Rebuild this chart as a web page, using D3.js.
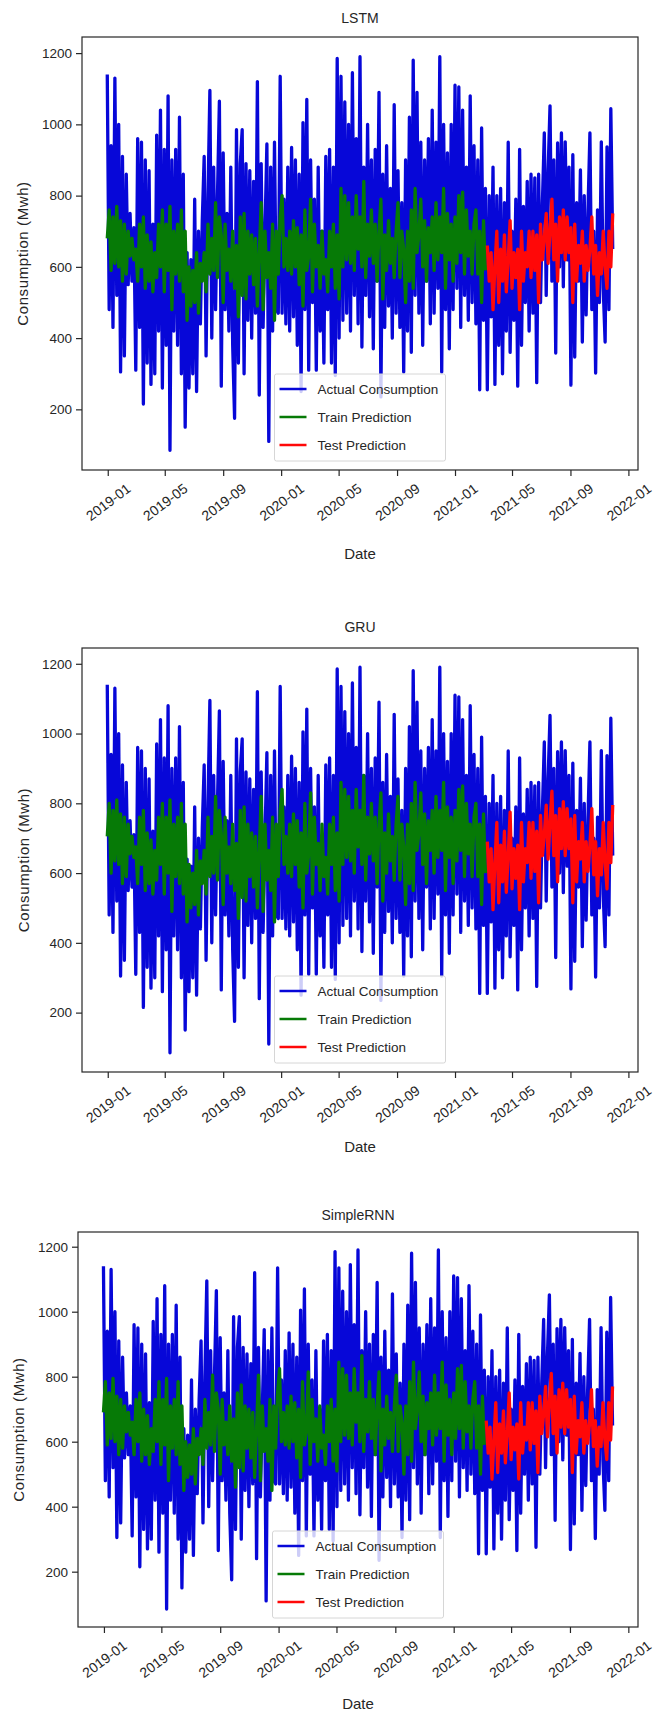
<!DOCTYPE html>
<html lang="en">
<head>
<meta charset="utf-8">
<script src="https://d3js.org/d3.v7.min.js"></script>
<style>
  body { margin: 0; background: #ffffff; }
  text { font-family: "Liberation Sans", Arial, sans-serif; fill: #262626; }
</style>
</head>
<body>
<script>
    // ---------------------------------------------------------------
    // data (one point every 4 days)
    // ---------------------------------------------------------------
    const startDate = "2018-12-31";
    const stepDays = 4;
    const splitIndex = 200;   // first test point

    const actual = [
        1140, 480, 940, 430, 1130, 520, 1000, 305, 910, 350,
        860, 550, 750, 560, 710, 310, 960, 430, 950, 215,
        900, 330, 870, 270, 720, 300, 970, 420, 1040, 260,
        930, 380, 1080, 85, 900, 420, 930, 380, 1020, 300,
        860, 150, 640, 260, 620, 300, 790, 250, 700, 440,
        730, 910, 350, 800, 1095, 400, 880, 480, 800, 1065,
        265, 920, 480, 750, 420, 880, 380, 175, 985, 330,
        890, 985, 300, 890, 450, 870, 400, 840, 470, 1120,
        240, 890, 430, 700, 945, 110, 880, 420, 950, 480,
        470, 1135, 470, 790, 440, 880, 420, 935, 460, 900,
        380, 860, 250, 1005, 480, 1070, 310, 900, 500, 790,
        310, 880, 420, 700, 330, 910, 480, 930, 330, 880,
        295, 1185, 400, 1135, 450, 1063, 470, 1000, 420, 1145,
        520, 960, 440, 1190, 375, 880, 520, 1000, 460, 900,
        370, 930, 560, 1090, 235, 860, 430, 940, 490, 820,
        400, 1055, 470, 870, 430, 780, 305, 900, 420, 1020,
        360, 1180, 520, 1090, 470, 950, 380, 900, 560, 960,
        440, 1040, 470, 950, 540, 1190, 305, 1000, 480, 920,
        370, 1000, 480, 1110, 540, 1105, 430, 1040, 520, 880,
        450, 1080, 500, 940, 440, 900, 255, 990, 450, 820,
        255, 800, 460, 880, 270, 800, 380, 820, 300, 780,
        420, 950, 360, 700, 450, 790, 265, 930, 380, 770,
        500, 840, 420, 860, 470, 850, 275, 860, 500, 780,
        976, 520, 870, 1052, 560, 900, 358, 948, 600, 976,
        544, 951, 620, 880, 268, 915, 347, 780, 560, 872,
        389, 800, 465, 760, 976, 480, 700, 302, 760, 500,
        951, 540, 389, 937, 480, 1044, 650
    ];

    const lstmTrain = [
        680, 760, 590, 740, 610, 770, 600, 730, 560, 720,
        580, 700, 630, 680, 620, 650, 560, 720, 600, 740,
        540, 690, 560, 670, 530, 640, 570, 720, 600, 760,
        530, 720, 590, 770, 480, 700, 580, 720, 560, 760,
        530, 700, 450, 600, 490, 590, 500, 640, 470, 610,
        560, 640, 530, 720, 580, 680, 590, 780, 570, 740,
        690, 500, 720, 590, 650, 560, 700, 540, 660, 460,
        740, 520, 750, 510, 700, 580, 690, 550, 680, 490,
        640, 780, 480, 700, 570, 640, 540, 720, 450, 700,
        580, 740, 800, 600, 680, 590, 700, 580, 730, 600,
        710, 550, 690, 490, 760, 590, 630, 790, 530, 720,
        600, 660, 540, 700, 580, 620, 530, 700, 600, 720,
        540, 690, 510, 820, 600, 800, 620, 780, 610, 740,
        590, 800, 650, 740, 600, 840, 570, 720, 630, 760,
        610, 720, 560, 700, 790, 510, 690, 590, 730, 610,
        680, 570, 700, 780, 570, 700, 650, 500, 700, 560,
        760, 540, 820, 640, 690, 790, 600, 730, 560, 710,
        640, 740, 590, 780, 620, 740, 640, 820, 540, 750,
        620, 720, 560, 740, 610, 800, 640, 810, 580, 760,
        630, 700, 580, 720, 760, 580, 700, 500, 730, 590
    ];
    const lstmTest = [
        660, 560, 640, 480, 600, 700, 500, 650, 560, 690,
        530, 620, 730, 540, 640, 570, 650, 480, 700, 560,
        640, 600, 700, 570, 700, 590, 690, 500, 720, 620,
        680, 750, 610, 700, 790, 620, 720, 560, 740, 640,
        760, 620, 740, 640, 710, 500, 720, 560, 660, 610,
        700, 560, 660, 590, 650, 740, 580, 660, 520, 640,
        580, 700, 600, 540, 700, 600, 750
    ];

    const gruTrain = [
        705, 800, 600, 780, 635, 810, 625, 770, 570, 760,
        590, 740, 655, 705, 645, 675, 570, 760, 625, 780,
        550, 715, 570, 695, 540, 665, 580, 760, 625, 800,
        540, 760, 600, 810, 490, 740, 590, 760, 570, 800,
        540, 740, 460, 625, 500, 600, 510, 665, 480, 635,
        570, 665, 540, 760, 590, 705, 600, 820, 580, 780,
        715, 510, 760, 600, 675, 570, 740, 550, 685, 470,
        780, 530, 790, 520, 740, 590, 715, 560, 705, 500,
        665, 820, 490, 740, 580, 665, 550, 760, 460, 740,
        590, 780, 840, 625, 705, 600, 740, 590, 770, 625,
        750, 560, 715, 500, 800, 600, 655, 830, 540, 760,
        625, 685, 550, 740, 590, 645, 540, 740, 625, 760,
        550, 715, 520, 860, 625, 840, 645, 820, 635, 780,
        600, 840, 675, 780, 625, 880, 580, 760, 655, 800,
        635, 760, 570, 740, 830, 520, 715, 600, 770, 635,
        705, 580, 740, 820, 580, 740, 675, 510, 740, 570,
        800, 550, 860, 665, 715, 830, 625, 770, 570, 750,
        665, 780, 600, 820, 645, 780, 665, 860, 550, 790,
        645, 760, 570, 780, 635, 840, 665, 850, 590, 800,
        655, 740, 590, 760, 800, 590, 740, 510, 770, 600
    ];
    const gruTest = [
        690, 575, 670, 495, 630, 745, 515, 680, 575, 720,
        545, 650, 775, 555, 670, 585, 680, 495, 745, 575,
        670, 630, 745, 585, 745, 605, 720, 515, 765, 650,
        710, 795, 640, 745, 835, 650, 765, 575, 785, 670,
        805, 650, 785, 670, 755, 515, 765, 575, 690, 640,
        745, 575, 690, 605, 680, 785, 595, 690, 535, 670,
        595, 745, 630, 555, 745, 630, 795
    ];

    const rnnTrain = [
        690, 785, 590, 750, 610, 795, 600, 740, 560, 730,
        580, 710, 630, 690, 620, 660, 560, 730, 600, 750,
        540, 700, 560, 680, 530, 640, 570, 730, 600, 785,
        530, 730, 590, 795, 480, 710, 580, 730, 560, 785,
        530, 710, 450, 600, 490, 590, 500, 640, 470, 610,
        560, 640, 530, 730, 580, 690, 590, 805, 570, 750,
        700, 500, 730, 590, 660, 560, 710, 540, 670, 460,
        750, 520, 775, 510, 710, 580, 700, 550, 690, 490,
        640, 805, 480, 710, 570, 640, 540, 730, 450, 710,
        580, 750, 825, 600, 690, 590, 710, 580, 740, 600,
        720, 550, 700, 490, 785, 590, 630, 815, 530, 730,
        600, 670, 540, 710, 580, 620, 530, 710, 600, 730,
        540, 700, 510, 845, 600, 825, 620, 805, 610, 750,
        590, 825, 660, 750, 600, 865, 570, 730, 630, 785,
        610, 730, 560, 710, 815, 510, 700, 590, 740, 610,
        690, 570, 710, 805, 570, 710, 660, 500, 710, 560,
        785, 540, 845, 640, 700, 815, 600, 740, 560, 720,
        640, 750, 590, 805, 620, 750, 640, 845, 540, 775,
        620, 730, 560, 750, 610, 825, 640, 835, 580, 785,
        630, 710, 580, 730, 785, 580, 710, 500, 740, 590
    ];
    const rnnTest = [
        665, 565, 645, 485, 605, 720, 505, 655, 565, 695,
        535, 625, 750, 545, 645, 575, 655, 485, 720, 565,
        645, 605, 720, 575, 720, 595, 695, 505, 740, 625,
        685, 770, 615, 720, 810, 625, 740, 565, 760, 645,
        780, 625, 760, 645, 730, 505, 740, 565, 665, 615,
        720, 565, 665, 595, 655, 760, 585, 665, 525, 645,
        585, 720, 605, 545, 720, 605, 770
    ];

    const yTicks = [200, 400, 600, 800, 1000, 1200];
    const xTickLabels = ["2019-01", "2019-05", "2019-09", "2020-01", "2020-05",
                         "2020-09", "2021-01", "2021-05", "2021-09", "2022-01"];
    const legendLabels = ["Actual Consumption", "Train Prediction", "Test Prediction"];
    const lineColours = ["#0707d8", "#067a06", "#ff0808"];

    // ---------------------------------------------------------------
    // layout of the three stacked panels
    // ---------------------------------------------------------------
    const panels = [
        {title: "LSTM",      train: lstmTrain, test: lstmTest,
         left: 82, right: 638, top: 37,   bottom: 470,  titleY: 18,   xlabelY: 553,  ylabelX: 22},
        {title: "GRU",       train: gruTrain,  test: gruTest,
         left: 82, right: 638, top: 648,  bottom: 1072, titleY: 627,  xlabelY: 1146, ylabelX: 23},
        {title: "SimpleRNN", train: rnnTrain,  test: rnnTest,
         left: 78, right: 638, top: 1232, bottom: 1627, titleY: 1215, xlabelY: 1703, ylabelX: 18}
    ];

    const width = 662, height = 1723;
    const ink = "#262626";

    const parseDay = d3.timeParse("%Y-%m-%d");
    const parseMonth = d3.timeParse("%Y-%m");
    const start = parseDay(startDate);
    const dates = actual.map((d, i) => d3.timeDay.offset(start, i * stepDays));
    const xTickDates = xTickLabels.map(parseMonth);

    // matplotlib style 5% margins on both axes
    const allValues = actual.concat(...panels.map(p => p.train.concat(p.test)));
    const vMin = d3.min(allValues), vMax = d3.max(allValues);
    const vPad = (vMax - vMin) * 0.05;
    const t0 = dates[0].getTime(), t1 = dates[dates.length - 1].getTime();
    const tPad = (t1 - t0) * 0.05;

    const svg = d3.select("body").append("svg")
        .attr("width", width)
        .attr("height", height);

    svg.append("rect")
        .attr("width", width)
        .attr("height", height)
        .attr("fill", "#ffffff");

    panels.forEach(function (p, pi) {
        const g = svg.append("g");

        const x = d3.scaleTime()
            .domain([new Date(t0 - tPad), new Date(t1 + tPad)])
            .range([p.left, p.right]);
        const y = d3.scaleLinear()
            .domain([vMin - vPad, vMax + vPad])
            .range([p.bottom, p.top]);

        const clipId = "clip" + pi;
        g.append("clipPath").attr("id", clipId)
            .append("rect")
            .attr("x", p.left).attr("y", p.top)
            .attr("width", p.right - p.left).attr("height", p.bottom - p.top);

        const line = d3.line()
            .x(d => x(d.date))
            .y(d => y(d.v));

        const actualPts = actual.map((v, i) => ({date: dates[i], v: v}));
        const trainPts = p.train.map((v, i) => ({date: dates[i], v: v}));
        const testPts = p.test.map((v, i) => ({date: dates[splitIndex + i], v: v}));

        const plot = g.append("g").attr("clip-path", "url(#" + clipId + ")");
        [actualPts, trainPts, testPts].forEach(function (pts, si) {
            plot.append("path")
                .datum(pts)
                .attr("d", line)
                .attr("fill", "none")
                .attr("stroke", lineColours[si])
                .attr("stroke-width", 3.3)
                .attr("stroke-linejoin", "round");
        });

        // axes
        const xAxis = g.append("g")
            .attr("transform", "translate(0," + p.bottom + ")")
            .call(d3.axisBottom(x)
                .tickValues(xTickDates)
                .tickFormat(d3.timeFormat("%Y-%m"))
                .tickSize(6));
        xAxis.select(".domain").remove();
        xAxis.selectAll(".tick line").attr("stroke", ink).attr("stroke-width", 1.2);
        xAxis.selectAll(".tick text")
            .attr("y", 0)
            .attr("dy", null)
            .attr("text-anchor", "middle")
            .attr("dominant-baseline", "central")
            .attr("transform", "translate(0,32) rotate(-37)")
            .style("font-size", "14px")
            .attr("fill", ink);

        const yAxis = g.append("g")
            .attr("transform", "translate(" + p.left + ",0)")
            .call(d3.axisLeft(y)
                .tickValues(yTicks)
                .tickFormat(d3.format("d"))
                .tickSize(6)
                .tickPadding(4));
        yAxis.select(".domain").remove();
        yAxis.selectAll(".tick line").attr("stroke", ink).attr("stroke-width", 1.2);
        yAxis.selectAll(".tick text")
            .style("font-size", "13.5px")
            .attr("fill", ink);

        // frame
        g.append("rect")
            .attr("x", p.left).attr("y", p.top)
            .attr("width", p.right - p.left).attr("height", p.bottom - p.top)
            .attr("fill", "none")
            .attr("stroke", ink)
            .attr("stroke-width", 1.2);

        const cx = (p.left + p.right) / 2;

        g.append("text")
            .attr("x", cx).attr("y", p.titleY)
            .attr("text-anchor", "middle")
            .attr("dominant-baseline", "central")
            .style("font-size", "14px")
            .text(p.title);

        g.append("text")
            .attr("x", cx).attr("y", p.xlabelY)
            .attr("text-anchor", "middle")
            .attr("dominant-baseline", "central")
            .style("font-size", "15px")
            .text("Date");

        g.append("text")
            .attr("transform", "translate(" + p.ylabelX + "," + ((p.top + p.bottom) / 2) + ") rotate(-90)")
            .attr("text-anchor", "middle")
            .attr("dominant-baseline", "central")
            .style("font-size", "15px")
            .style("letter-spacing", "0.6px")
            .text("Consumption (Mwh)");

        // legend, lower centre
        const lw = 171, lh = 87;
        const lx = cx - lw / 2, ly = p.bottom - 9 - lh;
        const legend = g.append("g").attr("transform", "translate(" + lx + "," + ly + ")");
        legend.append("rect")
            .attr("width", lw).attr("height", lh)
            .attr("rx", 2)
            .attr("fill", "#ffffff")
            .attr("fill-opacity", 0.8)
            .attr("stroke", "#d6d6d6")
            .attr("stroke-width", 1);
        legendLabels.forEach(function (name, li) {
            const ry = 15 + li * 28;
            legend.append("line")
                .attr("x1", 5).attr("x2", 32)
                .attr("y1", ry).attr("y2", ry)
                .attr("stroke", lineColours[li])
                .attr("stroke-width", 2.5);
            legend.append("text")
                .attr("x", 43).attr("y", ry)
                .attr("dominant-baseline", "central")
                .style("font-size", "13.5px")
                .text(name);
        });
    });
</script>
</body>
</html>
